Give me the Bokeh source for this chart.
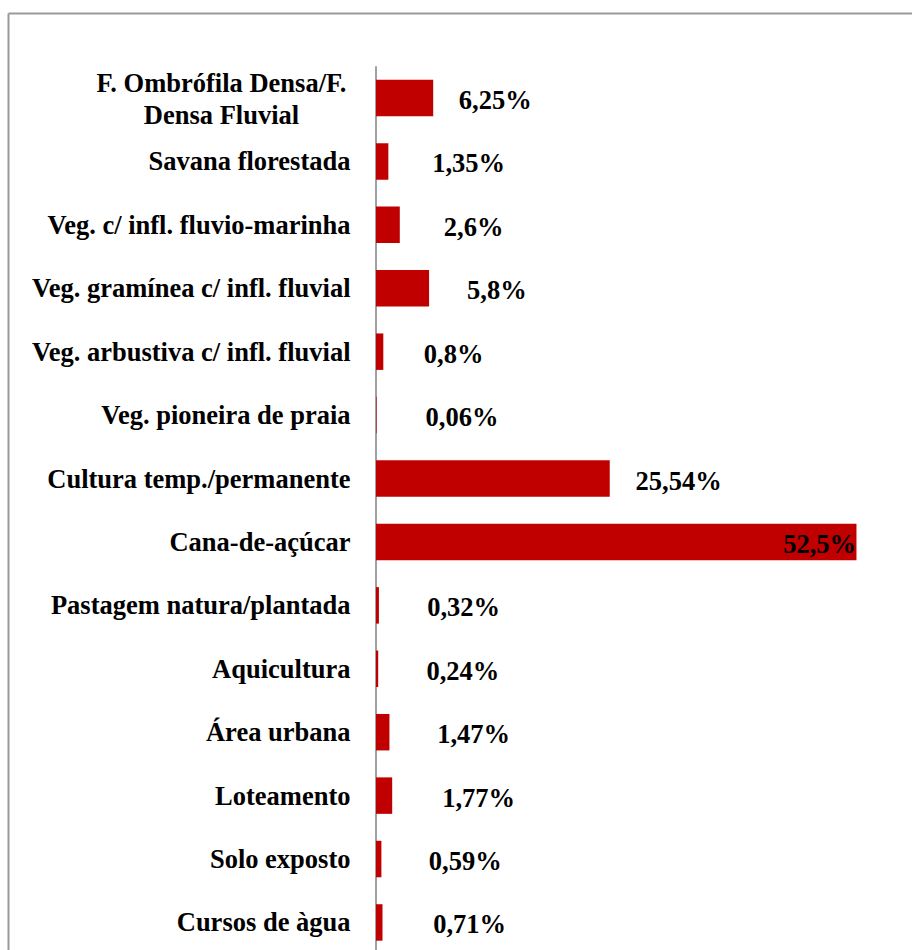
from bokeh.plotting import figure
from bokeh.models import ColumnDataSource, Range1d
from bokeh.core.properties import value
from bokeh.embed import file_html
from bokeh.resources import INLINE

# ---- data ----
categories = [
    "F. Ombrófila Densa/F.\nDensa Fluvial",
    "Savana florestada",
    "Veg. c/ infl. fluvio-marinha",
    "Veg. gramínea c/ infl. fluvial",
    "Veg. arbustiva c/ infl. fluvial",
    "Veg. pioneira de praia",
    "Cultura temp./permanente",
    "Cana-de-açúcar",
    "Pastagem natura/plantada",
    "Aquicultura",
    "Área urbana",
    "Loteamento",
    "Solo exposto",
    "Cursos de àgua",
]
percentages = [6.25, 1.35, 2.6, 5.8, 0.8, 0.06, 25.54, 52.5, 0.32, 0.24, 1.47, 1.77, 0.59, 0.71]

# label placement offsets (pixels from bar end), as in the original
label_offsets_px = [25.6, 43.8, 44, 38, 40.5, 49, 25.8, -73.3, 48.3, 48.3, 47.7, 50, 47.4, 50.7]

FONT = "Liberation Serif"
FSIZE = "26.5px"
BAR_COLOR = "#C00000"
BORDER_COLOR = "#9a9a9a"

n = len(categories)
rows = list(range(n))
labels = [str(v).replace(".", ",") + "%" for v in percentages]

W, H = 912, 950
px_per_unit_x = 9.152
x_start = -375.5 / px_per_unit_x
x_end = x_start + W / px_per_unit_x
px_per_row = 63.42
y_top = -97.5 / px_per_row
y_bottom = y_top + H / px_per_row

p = figure(width=W, height=H, output_backend="svg", toolbar_location=None,
           x_range=Range1d(x_start, x_end), y_range=Range1d(y_bottom, y_top),
           min_border=0, min_border_left=0, min_border_right=0,
           min_border_top=0, min_border_bottom=0)
p.axis.visible = False
p.grid.visible = False
p.outline_line_color = None
p.background_fill_color = "white"
p.border_fill_color = "white"

# chart-area border (top and left only, the rest is outside the picture)
bx = x_start + 8 / px_per_unit_x
by = y_top + 13 / px_per_row
p.segment(x0=[bx, bx], y0=[by, by], x1=[x_end + 1, bx], y1=[by, y_bottom + 1],
          line_color=BORDER_COLOR, line_width=2)

# vertical category axis line
p.segment(x0=[0], y0=[-0.5], x1=[0], y1=[n - 0.5], line_color="#a0a0a0", line_width=2)

src = ColumnDataSource(dict(y=rows, v=percentages, lab=labels, off=label_offsets_px,
                            cat=categories))
p.hbar(y="y", left=0, right="v", height=0.575, source=src,
       fill_color=BAR_COLOR, line_color=None)

# value labels
p.text(x="v", y="y", text="lab", x_offset="off", y_offset=2, source=src,
       text_font=value(FONT), text_font_style="bold", text_font_size=FSIZE,
       text_color="black", text_align="left", text_baseline="middle")

# category labels
single = [i for i, c in enumerate(categories) if "\n" not in c]
multi = [i for i, c in enumerate(categories) if "\n" in c]
src_single = ColumnDataSource(dict(y=[rows[i] for i in single],
                                   cat=[categories[i] for i in single]))
src_multi = ColumnDataSource(dict(y=[rows[i] for i in multi],
                                  cat=[categories[i] for i in multi]))
p.text(x=0, y="y", text="cat", source=src_single, x_offset=-25.5,
       text_font=value(FONT), text_font_style="bold", text_font_size=FSIZE,
       text_color="black", text_align="right", text_baseline="middle")
p.text(x=0, y="y", text="cat", source=src_multi, x_offset=-154.5, y_offset=1,
       text_font=value(FONT), text_font_style="bold", text_font_size=FSIZE,
       text_color="black", text_align="center", text_baseline="middle",
       text_line_height=1.05)

open("out.html", "w").write(file_html(p, INLINE))
